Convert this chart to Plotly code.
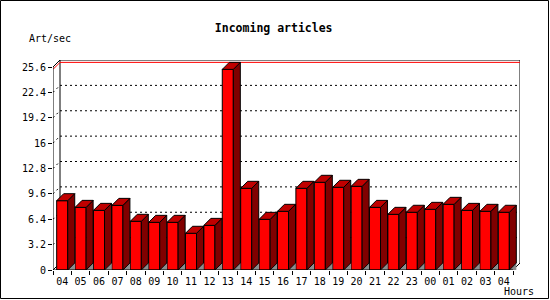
import plotly.graph_objects as go

# ---- data ----
hours = ["04", "05", "06", "07", "08", "09", "10", "11", "12", "13", "14", "15", "16",
         "17", "18", "19", "20", "21", "22", "23", "00", "01", "02", "03", "04"]
rate = [8.74, 7.90, 7.52, 8.15, 6.14, 6.01, 6.01, 4.63, 5.63, 25.3, 10.3, 6.39, 7.40,
        10.3, 11.06, 10.43, 10.55, 7.90, 7.02, 7.28, 7.65, 8.28, 7.52, 7.40, 7.28]
y_ticks = [0, 3.2, 6.4, 9.6, 12.8, 16, 19.2, 22.4, 25.6]
y_tick_labels = ["0", "3.2", "6.4", "9.6", "12.8", "16", "19.2", "22.4", "25.6"]
title_text = "Incoming articles"
y_title = "Art/sec"
x_title = "Hours"

# ---- geometry ----
W, H = 550, 300
L, R, T, B = 53, 30, 60, 30
pw, ph = W - L - R, H - T - B
n = len(rate)
px_x = 18.4
dx = 7 / px_x
ymax = y_ticks[-1]
dy = 7 * ymax / (ph - 7)
xr = [-0.5, n - 0.5 + dx]
yr = [0, ymax + dy]
bw = 0.6
FONT = "DejaVu Sans Mono"

fig = go.Figure()

gx, gy = [], []
sx, sy = [], []
tx, ty = [], []
for i, v in enumerate(rate):
    x0 = i + bw / 2
    gx += [x0, x0 + dx, x0 + dx, x0, None]
    gy += [0, dy, 0, 0, None]
    sx += [x0, x0 + dx, x0 + dx, x0, x0, None]
    sy += [0, dy, v + dy, v, 0, None]
    xl = i - bw / 2
    tx += [xl, xl + dx, x0 + dx, x0, xl, None]
    ty += [v, v + dy, v + dy, v, v, None]

fig.add_trace(go.Bar(x=list(range(n)), y=rate, width=bw,
                     marker=dict(color="#ff0000", line=dict(color="black", width=1)),
                     hoverinfo="skip"))
fig.add_trace(go.Scatter(x=gx, y=gy, mode="lines", fill="toself", fillcolor="#8c8c8c",
                         line=dict(width=0, color="#8c8c8c"), hoverinfo="skip"))
fig.add_trace(go.Scatter(x=sx, y=sy, mode="lines", fill="toself", fillcolor="#800000",
                         line=dict(width=1, color="black"), hoverinfo="skip"))
fig.add_trace(go.Scatter(x=tx, y=ty, mode="lines", fill="toself", fillcolor="#c00000",
                         line=dict(width=1, color="black"), hoverinfo="skip"))

shapes = []
blk = dict(color="black", width=1)
for t in y_ticks[1:-1]:
    shapes.append(dict(type="line", layer="below", x0=-0.5 + dx, x1=xr[1], y0=t + dy, y1=t + dy,
                       line=dict(color="black", width=1, dash="2px,3px")))
    shapes.append(dict(type="line", layer="below", x0=-0.5, x1=-0.5 + dx, y0=t, y1=t + dy,
                       line=dict(color="black", width=1, dash="2px,3px")))
shapes.append(dict(type="line", layer="below", x0=-0.5 + dx, x1=-0.5 + dx, y0=dy, y1=ymax + dy, line=blk))
shapes.append(dict(type="line", layer="below", x0=-0.5 + dx, x1=xr[1], y0=ymax + dy, y1=ymax + dy, line=blk))
shapes.append(dict(type="line", layer="below", x0=xr[1], x1=xr[1], y0=dy, y1=ymax + dy, line=blk))
shapes.append(dict(type="line", x0=-0.5, x1=-0.5, y0=0, y1=ymax, line=blk))
shapes.append(dict(type="line", layer="below", x0=-0.5, x1=-0.5 + dx, y0=ymax, y1=ymax + dy, line=blk))
shapes.append(dict(type="line", x0=-0.5, x1=n - 0.5, y0=0, y1=0, line=blk))
shapes.append(dict(type="line", layer="below", x0=n - 0.5, x1=xr[1], y0=0, y1=dy, line=blk))
shapes.append(dict(type="line", layer="below", x0=-0.5, x1=-0.5 + dx, y0=0, y1=dy, line=blk))
vmax = max(rate)
shapes.append(dict(type="line", layer="below", x0=-0.5 + dx, x1=xr[1], y0=vmax + dy, y1=vmax + dy,
                   line=dict(color="red", width=1)))
shapes.append(dict(type="line", layer="below", x0=-0.5, x1=-0.5 + dx, y0=vmax, y1=vmax + dy,
                   line=dict(color="red", width=1)))
shapes.append(dict(type="rect", xref="paper", yref="paper",
                   x0=(0.5 - L) / pw, x1=(548.5 - L) / pw,
                   y0=(H - B - 298.5) / ph, y1=(H - B - 0.5) / ph,
                   line=blk, fillcolor="rgba(0,0,0,0)"))

fig.update_layout(
    width=W, height=H, margin=dict(l=L, r=R, t=T, b=B),
    paper_bgcolor="white", plot_bgcolor="white", showlegend=False,
    shapes=shapes,
    title=dict(text=title_text, x=273.7 / W, y=1 - 28 / H, xanchor="center", yanchor="middle",
               font=dict(family=FONT, size=11.5, color="black", weight="bold")),
    xaxis=dict(range=xr, tickmode="array", tickvals=list(range(n)), ticktext=hours,
               ticks="", showgrid=False, zeroline=False, showline=False,
               ticklabelstandoff=4,
               tickfont=dict(family=FONT, size=10, color="black"),
               minor=dict(tickmode="array", tickvals=[i - 0.5 for i in range(n + 1)],
                          ticks="outside", ticklen=4, tickcolor="black", showgrid=False)),
    yaxis=dict(range=yr, tickmode="array", tickvals=y_ticks, ticktext=y_tick_labels,
               ticks="outside", ticklen=4, tickcolor="black", showgrid=False, zeroline=False,
               showline=False, tickfont=dict(family=FONT, size=10, color="black")),
    annotations=[
        dict(text=y_title, xref="paper", yref="paper", x=(50 - L) / pw, y=(H - B - 38.6) / ph,
             showarrow=False, xanchor="center", yanchor="middle",
             font=dict(family=FONT, size=10, color="black")),
        dict(text=x_title, xref="paper", yref="paper", x=(518.5 - L) / pw, y=(H - B - 291.7) / ph,
             showarrow=False, xanchor="center", yanchor="middle",
             font=dict(family=FONT, size=10, color="black")),
    ],
)

fig.write_html("out.html")
